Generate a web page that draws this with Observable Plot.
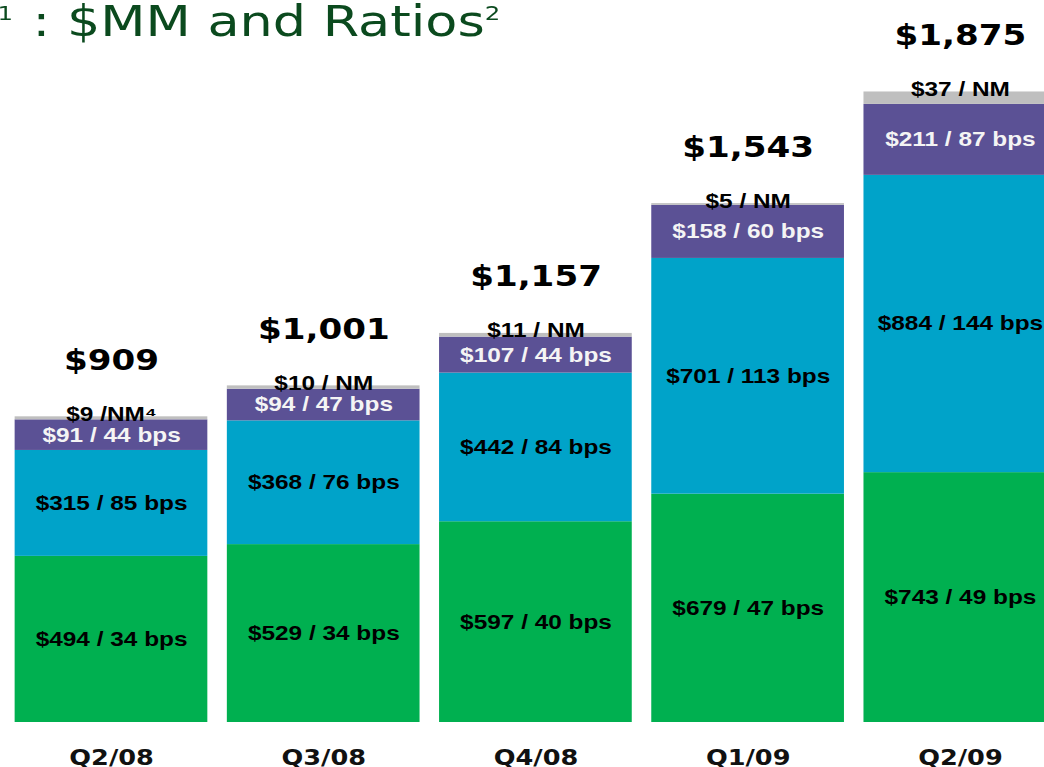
<!DOCTYPE html>
<html>
<head>
<meta charset="utf-8">
<script src="https://cdn.jsdelivr.net/npm/d3@7"></script>
<script src="https://cdn.jsdelivr.net/npm/@observablehq/plot@0.6"></script>
<style>
  html, body { margin: 0; padding: 0; background: #ffffff; overflow: hidden; }
  #wrap { position: relative; width: 856px; height: 767px; transform: scaleX(1.2196); transform-origin: 0 0; }
  #title { position: absolute; top: 0px; left: -2px; font-family: "DejaVu Sans", Verdana, sans-serif; font-size: 43px; line-height: 42px; color: #0B4A1E; white-space: nowrap; z-index: 2; }
  #title .sup { font-size: 20px; vertical-align: 16px; line-height: 0; }
  svg { overflow: hidden; }
</style>
</head>
<body>
<div id="wrap">
  <div id="title"><span class="sup" style="margin-right:16px">1</span>: $MM and Ratios<span class="sup">2</span></div>
  <div id="chart"></div>
</div>
<script>
// ---- data ----
const quarters = ["Q2/08", "Q3/08", "Q4/08", "Q1/09", "Q2/09"];
const seriesNames = ["Segment 1", "Segment 2", "Segment 3", "Other"];
const seriesColors = ["#00B050", "#00A3C9", "#5B5195", "#BFBFBF"];

const seg1Values = [494, 529, 597, 679, 743];
const seg1Bps = [34, 34, 40, 47, 49];
const seg2Values = [315, 368, 442, 701, 884];
const seg2Bps = [85, 76, 84, 113, 144];
const seg3Values = [91, 94, 107, 158, 211];
const seg3Bps = [44, 47, 44, 60, 87];
const otherValues = [9, 10, 11, 5, 37];
const otherLabels = ["$9 /NM\u2074", "$10 / NM", "$11 / NM", "$5 / NM", "$37 / NM"];
const totals = [909, 1001, 1157, 1543, 1875];

// ---- build long table ----
const rows = [];
const addSeries = (name, values, labelFn) => {
  quarters.forEach((q, i) => rows.push({quarter: q, series: name, value: values[i], label: labelFn(i)}));
};
addSeries(seriesNames[0], seg1Values, i => `$${seg1Values[i]} / ${seg1Bps[i]} bps`);
addSeries(seriesNames[1], seg2Values, i => `$${seg2Values[i]} / ${seg2Bps[i]} bps`);
addSeries(seriesNames[2], seg3Values, i => `$${seg3Values[i]} / ${seg3Bps[i]} bps`);
addSeries(seriesNames[3], otherValues, i => otherLabels[i]);

const totalRows = quarters.map((q, i) => ({quarter: q, total: totals[i]}));
const fmt = d3.format(",");

const labelFont = {fontFamily: "'Liberation Sans', Arial, sans-serif", fontWeight: "bold", fontSize: 20};

const chart = Plot.plot({
  width: 856,
  height: 767,
  marginTop: 0,
  marginBottom: 45,
  marginLeft: 0,
  marginRight: 0,
  style: {fontFamily: "'Liberation Sans', Arial, sans-serif", background: "#ffffff", overflow: "hidden"},
  x: {type: "band", domain: quarters, range: [10.66, 868.3], paddingInner: 0.0892, paddingOuter: 0, axis: null, label: null},
  y: {domain: [0, 2147], axis: null},
  color: {domain: seriesNames, range: seriesColors},
  marks: [
    Plot.barY(rows, {x: "quarter", y: "value", fill: "series", z: "series"}),
    // black labels on green and blue
    Plot.text(rows, Plot.stackY({
      x: "quarter", y: "value", z: "series",
      text: d => (d.series === seriesNames[0] || d.series === seriesNames[1]) ? d.label : null,
      fill: "#000000", lineAnchor: "middle", ...labelFont
    })),
    // white labels on purple
    Plot.text(rows, Plot.stackY({
      x: "quarter", y: "value", z: "series",
      text: d => d.series === seriesNames[2] ? d.label : null,
      fill: "#F4F4F4", lineAnchor: "middle", ...labelFont
    })),
    // labels sitting on the thin gray segment
    Plot.text(rows, Plot.stackY2({
      x: "quarter", y: "value", z: "series",
      text: d => d.series === seriesNames[3] ? d.label : null,
      fill: "#000000", lineAnchor: "bottom", dy: 4, ...labelFont
    })),
    // totals
    Plot.text(totalRows, {
      x: "quarter", y: "total", text: d => "$" + fmt(d.total),
      lineAnchor: "middle", dy: -56, fill: "#000000",
      fontFamily: "'DejaVu Sans', Verdana, sans-serif", fontWeight: "bold", fontSize: 28
    }),
    Plot.axisX({
      tickSize: 0, tickPadding: 28, label: null,
      fontFamily: "'DejaVu Sans', Verdana, sans-serif", fontWeight: "bold", fontSize: 21, fill: "#111111"
    })
  ]
});
document.getElementById("chart").appendChild(chart);
</script>
</body>
</html>
